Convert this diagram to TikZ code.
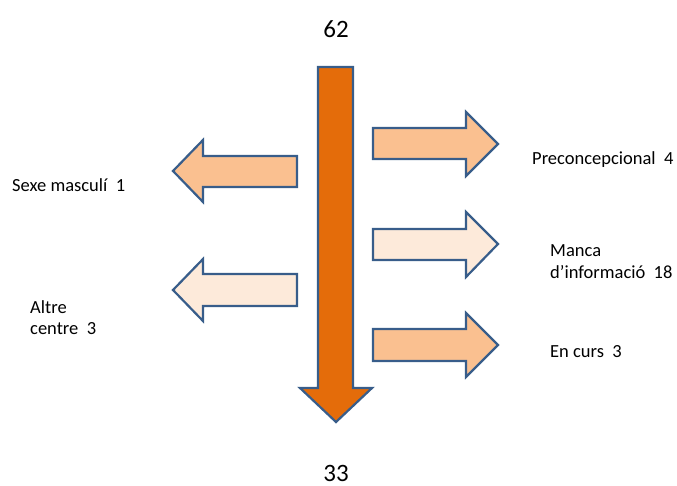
\documentclass[tikz,border=0pt]{standalone}
\usepackage{fontspec}
\setmainfont{Carlito}
\definecolor{darkor}{HTML}{E46C0A}
\definecolor{midor}{HTML}{FAC090}
\definecolor{lightor}{HTML}{FDEADA}
\definecolor{edgeblue}{HTML}{385D8A}
\begin{document}
\begin{tikzpicture}[x=1pt,y=-1pt,
  shapeline/.style={draw=edgeblue,line width=2.2pt,line join=miter},
  lbl/.style={anchor=base west,inner sep=0pt,font=\fontsize{18.5}{21}\selectfont},
  num/.style={anchor=base,inner sep=0pt,font=\fontsize{25}{30}\selectfont}]
\useasboundingbox (0,0) rectangle (677,486);
% main vertical arrow
\draw[shapeline,fill=darkor] (318,67) -- (353,67) -- (353,388) -- (372,388) -- (336,422) -- (300,388) -- (318,388) -- cycle;
% left arrows
\draw[shapeline,fill=midor] (297,156) -- (203,156) -- (203,140) -- (173,171) -- (203,202) -- (203,187) -- (297,187) -- cycle;
\draw[shapeline,fill=lightor] (297,274) -- (203,274) -- (203,259) -- (173,290) -- (203,321) -- (203,306) -- (297,306) -- cycle;
% right arrows
\draw[shapeline,fill=midor] (373,128) -- (466,128) -- (466,112) -- (498,144) -- (466,176) -- (466,159) -- (373,159) -- cycle;
\draw[shapeline,fill=lightor] (373,229) -- (466,229) -- (466,212) -- (498,244) -- (466,277) -- (466,260) -- (373,260) -- cycle;
\draw[shapeline,fill=midor] (373,329) -- (466,329) -- (466,313) -- (498,345) -- (466,377) -- (466,361) -- (373,361) -- cycle;
% numbers
\node[num] (top) at (336,38) {62};
\node[num] (bot) at (336,481) {33};
% labels
\node[lbl] (sexe) at (12,192) {Sexe masculí\ \ 1};
\node[lbl] (altre1) at (30,313) {Altre};
\node[lbl] (altre2) at (30,334) {centre\ \ 3};
\node[lbl] (pre) at (532,165) {Preconcepcional\ \ 4};
\node[lbl] (manca1) at (550,257) {Manca};
\node[lbl] (manca2) at (550,279) {d’informació\ \ 18};
\node[lbl] (curs) at (550,357) {En curs\ \ 3};
\end{tikzpicture}
\end{document}
